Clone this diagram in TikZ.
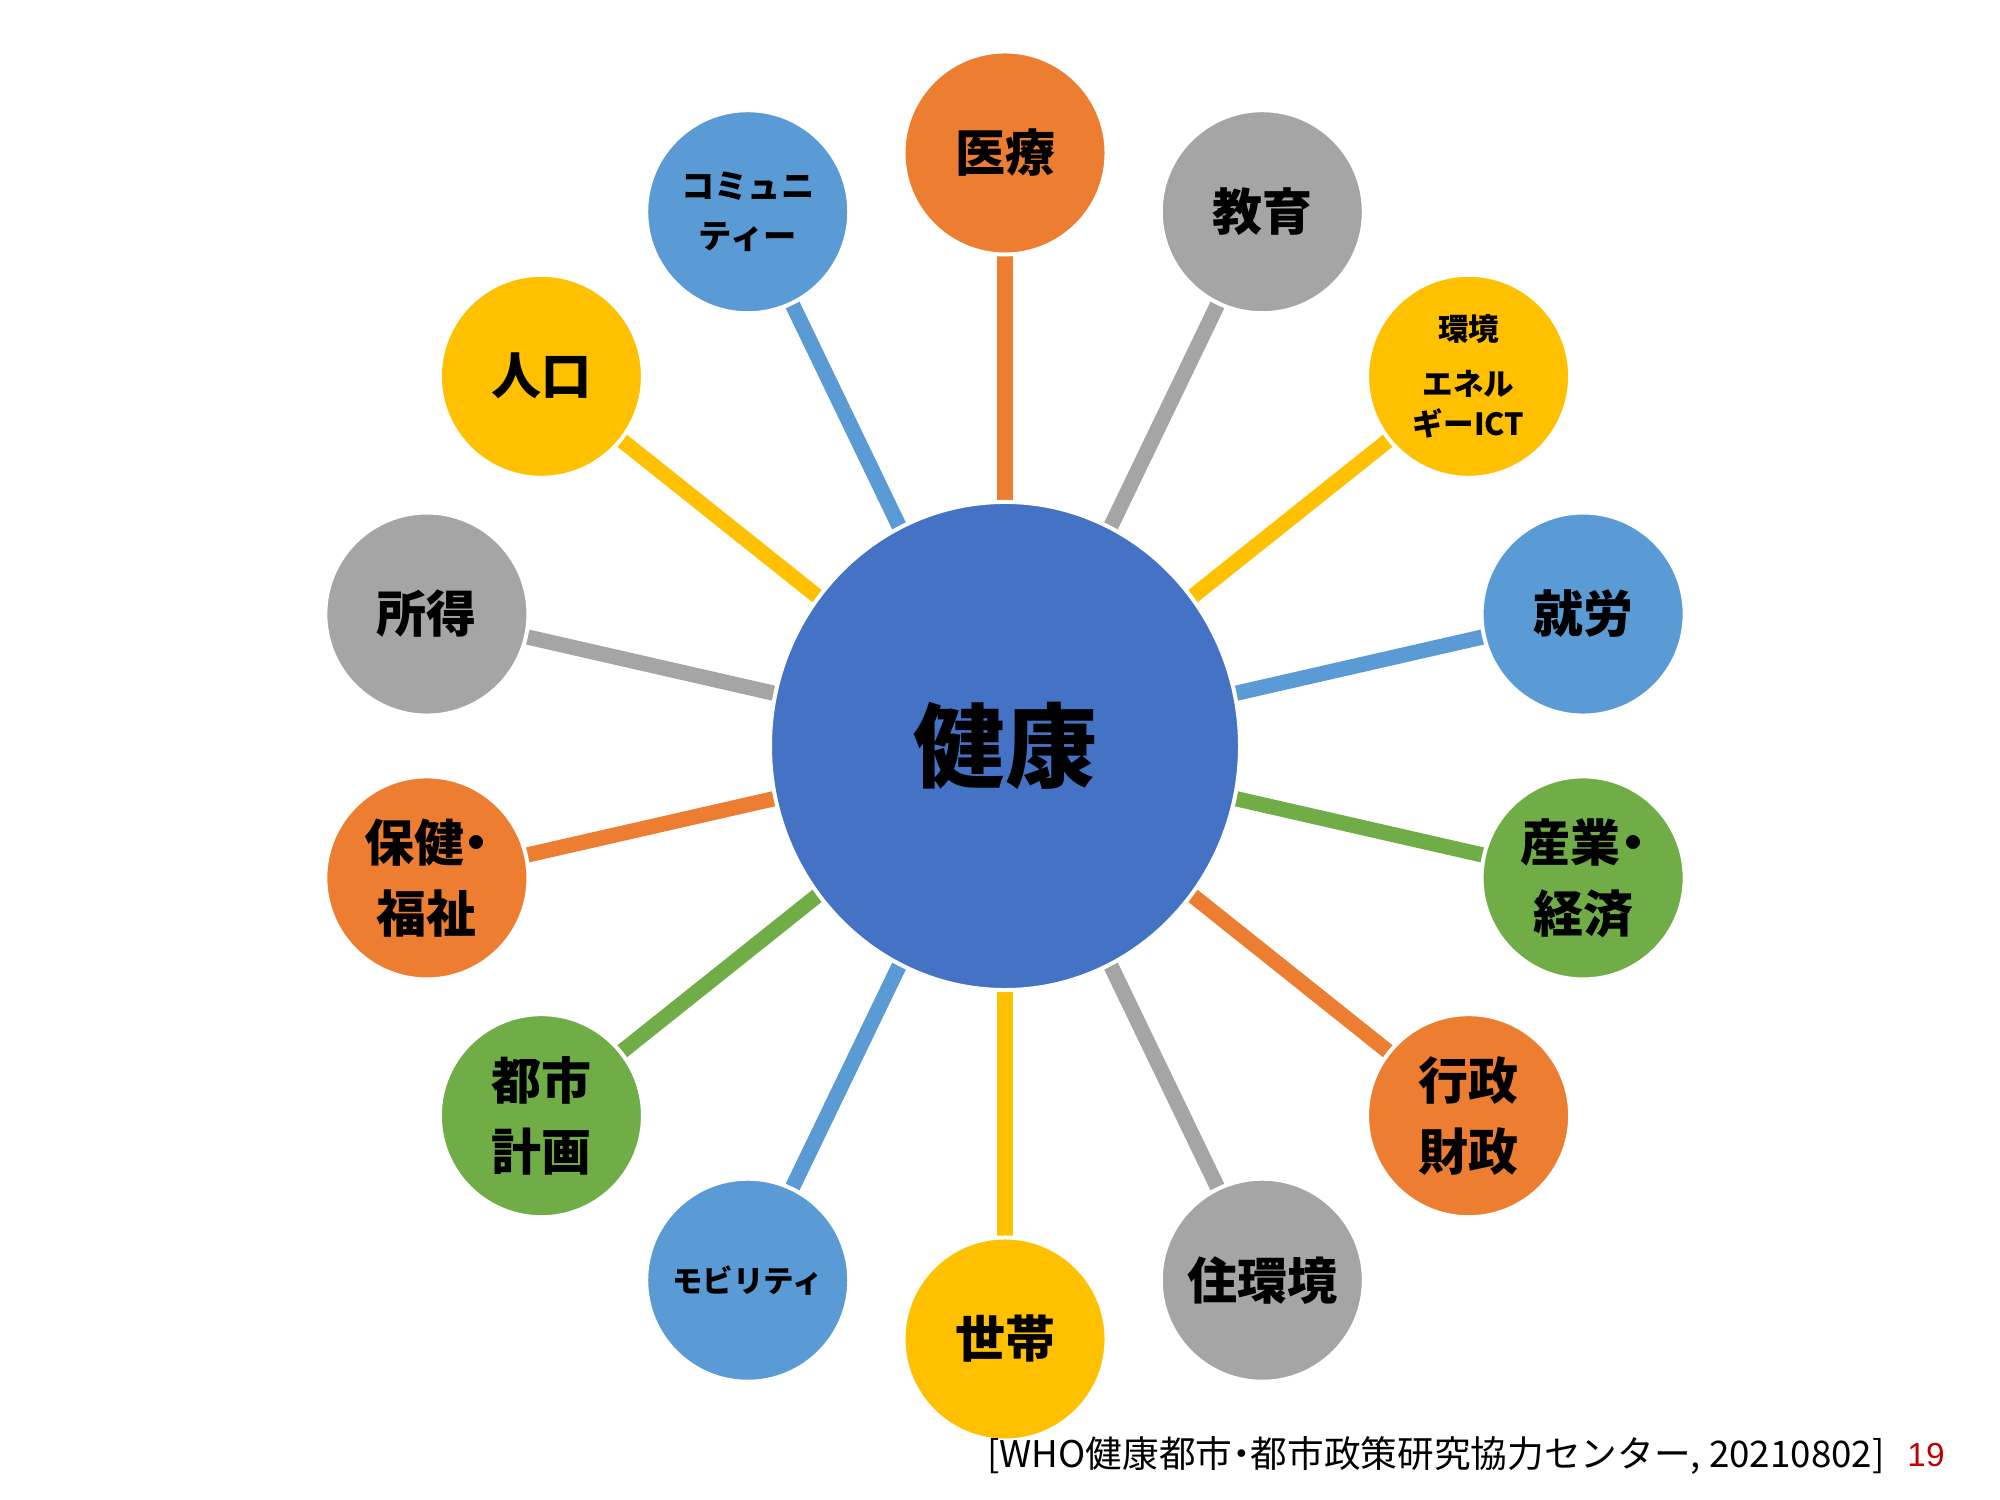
\documentclass[tikz,border=0pt]{standalone}
\usepackage{fontspec}
\newfontfamily\jp{Noto Sans CJK JP}
\newfontfamily\lat{Liberation Sans}
\usetikzlibrary{backgrounds,shapes.geometric}
\definecolor{cOrange}{HTML}{ED7D31}
\definecolor{cGray}{HTML}{A5A5A5}
\definecolor{cYellow}{HTML}{FFC000}
\definecolor{cBlue}{HTML}{5B9BD5}
\definecolor{cGreen}{HTML}{70AD47}
\definecolor{cCenter}{HTML}{4472C4}
\definecolor{cRed}{HTML}{C00000}
\newcommand{\hdot}{\makebox[0.5em]{・}}
\begin{document}
\begin{tikzpicture}[x=0.36pt,y=0.36pt,
  hub/.style={ellipse, fill=cCenter, draw=white, line width=1.44pt, minimum width=169.2pt, minimum height=175.7pt, inner sep=0pt,
    font=\jp\bfseries\fontsize{33}{40}\selectfont},
  spoke/.style={circle, draw=white, line width=1.44pt, minimum size=73.1pt, inner sep=0pt, align=center,
    font=\jp\bfseries\fontsize{18}{25.6}\selectfont},
  smalltext/.style={font=\jp\bfseries\fontsize{12}{18}\selectfont},
  tinytext/.style={font=\jp\bfseries\fontsize{11}{14.4}\selectfont},
  link/.style={line width=5.5pt},
  foot/.style={inner sep=0pt, font=\jp\fontsize{13.2}{16}\selectfont}]
\useasboundingbox (0,0) rectangle (2000,1500);
\node[hub] (c) at (1005,754) {健康};
\begin{scope}[shift={(1005,754)}]
\node[spoke, fill=cOrange] (n0) at (90:593) {医療};
\node[spoke, fill=cGray] (n1) at (64.286:593) {教育};
\node[spoke, fill=cYellow, tinytext] (n2) at (38.571:593) {環境\\[5.4pt]エネル\\ギーICT};
\node[spoke, fill=cBlue] (n3) at (12.857:593) {就労};
\node[spoke, fill=cGreen] (n4) at (-12.857:593) {産業\hdot\\経済};
\node[spoke, fill=cOrange] (n5) at (-38.571:593) {行政\\財政};
\node[spoke, fill=cGray] (n6) at (-64.286:593) {住環境};
\node[spoke, fill=cYellow] (n7) at (-90:593) {世帯};
\node[spoke, fill=cBlue, tinytext] (n8) at (-115.714:593) {モビリティ};
\node[spoke, fill=cGreen] (n9) at (-141.429:593) {都市\\計画};
\node[spoke, fill=cOrange] (n10) at (-167.143:593) {保健\hdot\\福祉};
\node[spoke, fill=cGray] (n11) at (167.143:593) {所得};
\node[spoke, fill=cYellow] (n12) at (141.429:593) {人口};
\node[spoke, fill=cBlue, smalltext] (n13) at (115.714:593) {コミュニ\\ティー};
\end{scope}
\begin{scope}[on background layer]
\draw[link, cOrange] (c.center) -- (n0.center);
\draw[link, cGray] (c.center) -- (n1.center);
\draw[link, cYellow] (c.center) -- (n2.center);
\draw[link, cBlue] (c.center) -- (n3.center);
\draw[link, cGreen] (c.center) -- (n4.center);
\draw[link, cOrange] (c.center) -- (n5.center);
\draw[link, cGray] (c.center) -- (n6.center);
\draw[link, cYellow] (c.center) -- (n7.center);
\draw[link, cBlue] (c.center) -- (n8.center);
\draw[link, cGreen] (c.center) -- (n9.center);
\draw[link, cOrange] (c.center) -- (n10.center);
\draw[link, cGray] (c.center) -- (n11.center);
\draw[link, cYellow] (c.center) -- (n12.center);
\draw[link, cBlue] (c.center) -- (n13.center);
\end{scope}
\node[foot, anchor=east] (src) at (1885,45) {[WHO健康都市\hdot 都市政策研究協力センター, 20210802]};
\node[inner sep=0pt, text=cRed, font=\lat\fontsize{12}{14}\selectfont] (pg) at (1926,45) {19};
\end{tikzpicture}
\end{document}
